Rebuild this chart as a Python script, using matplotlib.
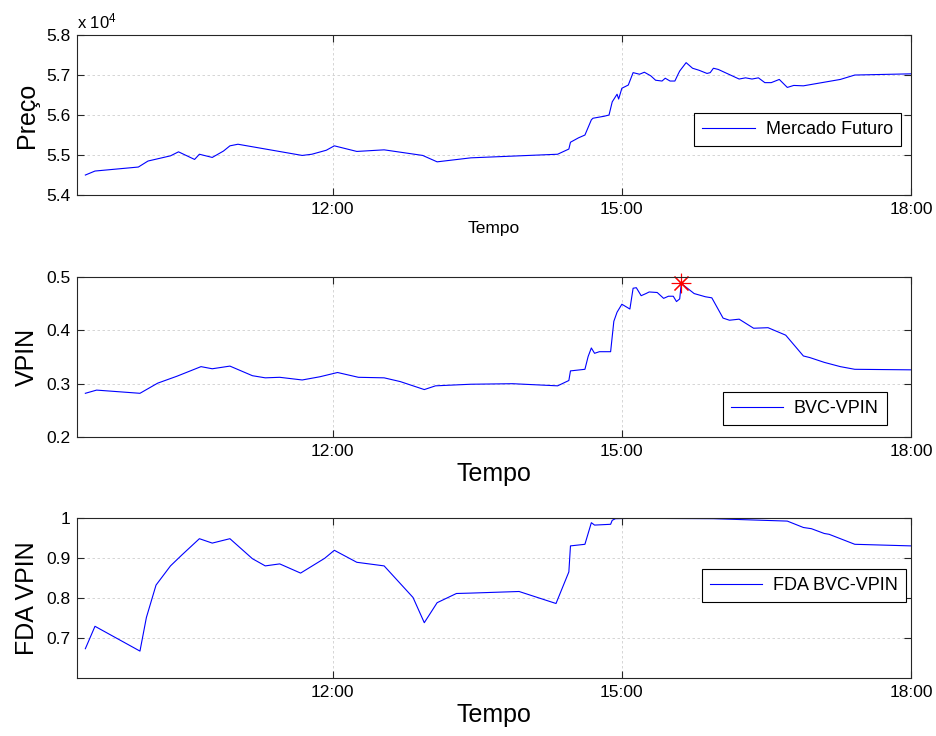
import matplotlib
matplotlib.use("Agg")
import matplotlib.pyplot as plt

plt.rcParams['font.family'] = ['Liberation Sans', 'DejaVu Sans']
plt.rcParams['mathtext.fontset'] = 'custom'
plt.rcParams['mathtext.rm'] = 'Liberation Sans'
plt.rcParams['mathtext.it'] = 'Liberation Sans'

# ---------------- data ----------------
price_times = ["09:26","09:32","09:59","10:05","10:19","10:24","10:34","10:37","10:45","10:52",
               "10:56","11:01","11:41","11:47","11:56","12:01","12:15","12:32","12:56","13:05",
               "13:26","14:20","14:27","14:28","14:33","14:37","14:41","14:42","14:49","14:52",
               "14:54","14:57","14:58","15:00","15:04","15:07","15:11","15:14","15:18","15:21",
               "15:25","15:27","15:30","15:33","15:35","15:36","15:40","15:44","15:48","15:53",
               "15:55","15:57","16:00","16:13","16:17","16:21","16:25","16:29","16:33","16:38",
               "16:43","16:47","16:53","17:16","17:25","18:00"]
price_values = [54500,54600,54700,54850,54980,55080,54890,55020,54940,55100,
                55230,55270,54990,55020,55120,55230,55090,55130,54990,54830,
                54930,55020,55150,55320,55430,55500,55880,55920,55970,56000,
                56330,56520,56400,56670,56750,57060,57020,57070,56980,56870,
                56850,56920,56850,56850,57020,57100,57310,57170,57120,57040,
                57060,57170,57140,56900,56930,56900,56930,56810,56810,56890,
                56690,56740,56730,56890,57000,57030]

vpin_times = ["09:26","09:33","10:00","10:11","10:23","10:38","10:45","10:56","11:10","11:18",
              "11:27","11:41","11:52","12:03","12:16","12:32","12:42","12:57","13:04","13:26",
              "13:52","14:20","14:27","14:28","14:37","14:39","14:41","14:43","14:46","14:53",
              "14:55","14:57","15:00","15:05","15:07","15:09","15:12","15:15","15:17","15:22",
              "15:26","15:29","15:32","15:34","15:36","15:37","15:45","15:52","15:56","16:03",
              "16:07","16:13","16:22","16:31","16:42","16:53","16:57","17:06","17:16","17:25",
              "18:00"]
vpin_values = [0.282,0.288,0.282,0.301,0.314,0.332,0.328,0.333,0.315,0.311,
               0.312,0.307,0.313,0.321,0.312,0.311,0.304,0.289,0.296,0.299,
               0.300,0.296,0.306,0.324,0.327,0.351,0.367,0.357,0.360,0.360,
               0.417,0.434,0.449,0.440,0.479,0.480,0.465,0.469,0.472,0.471,
               0.460,0.464,0.464,0.454,0.459,0.488,0.469,0.463,0.461,0.423,
               0.419,0.421,0.404,0.405,0.391,0.352,0.349,0.340,0.332,0.327,
               0.326]

fda_times = ["09:26","09:32","10:00","10:04","10:10","10:19","10:26","10:37","10:45","10:56",
             "11:10","11:18","11:27","11:40","11:55","12:01","12:15","12:32","12:50","12:57",
             "13:05","13:17","13:26","13:56","14:19","14:27","14:28","14:37","14:41","14:43",
             "14:53","14:54","14:56","15:07","15:57","16:43","16:53","16:58","17:06","17:09",
             "17:25","18:00"]
fda_values = [0.674,0.730,0.668,0.752,0.833,0.881,0.908,0.949,0.938,0.949,
              0.899,0.881,0.886,0.863,0.900,0.920,0.890,0.881,0.802,0.739,
              0.789,0.812,0.813,0.817,0.787,0.866,0.931,0.935,0.989,0.983,
              0.985,0.995,0.999,1.000,0.999,0.993,0.977,0.974,0.962,0.960,
              0.935,0.931]

xtick_hours = [12, 15, 18]
xtick_labels = ["12:00", "15:00", "18:00"]


def to_hours(ts):
    out = []
    for t in ts:
        h, m = t.split(":")
        out.append(int(h) + int(m) / 60.0)
    return out


# ---------------- figure ----------------
fig = plt.figure(figsize=(9.36, 7.36), dpi=100)
L, W, H = 0.0826, 0.8907, 0.2174
ax1 = fig.add_axes([L, 0.7350, W, H])
ax2 = fig.add_axes([L, 0.4062, W, H])
ax3 = fig.add_axes([L, 0.0784, W, H])

blue = '#0000ff'
lw = 0.8
ax1.plot(to_hours(price_times), [p / 1e4 for p in price_values], color=blue, lw=lw,
         label='Mercado Futuro')
vt = to_hours(vpin_times)
ax2.plot(vt, vpin_values, color=blue, lw=lw, label='BVC-VPIN')
imax = max(range(len(vpin_values)), key=lambda i: vpin_values[i])
ax2.plot([vt[imax]], [vpin_values[imax]], linestyle='none', marker=(8, 2, 0),
         markersize=14, markeredgecolor='red', markeredgewidth=0.8, color='red',
         clip_on=False)
ax3.plot(to_hours(fda_times), fda_values, color=blue, lw=lw, label='FDA BVC-VPIN')

ax1.set_ylim(5.4, 5.8)
ax1.set_yticks([5.4, 5.5, 5.6, 5.7, 5.8])
ax1.set_yticklabels(['5.4', '5.5', '5.6', '5.7', '5.8'])
ax2.set_ylim(0.2, 0.5)
ax2.set_yticks([0.2, 0.3, 0.4, 0.5])
ax2.set_yticklabels(['0.2', '0.3', '0.4', '0.5'])
ax3.set_ylim(0.6, 1.0)
ax3.set_yticks([0.7, 0.8, 0.9, 1.0])
ax3.set_yticklabels(['0.7', '0.8', '0.9', '1'])

for ax in (ax1, ax2, ax3):
    ax.set_xlim(9.35, 18.0)
    ax.set_xticks(xtick_hours)
    ax.set_xticklabels(xtick_labels)
    ax.tick_params(direction='in', top=True, right=True, length=5, width=0.8,
                   labelsize=12.5, pad=5, colors='#262626', labelcolor='black')
    ax.grid(True, color='#cfcfcf', linestyle=(0, (3, 3)), linewidth=0.6)
    for s in ax.spines.values():
        s.set_color('#262626')
        s.set_linewidth(0.8)

ax1.text(0.0, 1.025, r'x 10$^{4}$', transform=ax1.transAxes, fontsize=12,
         ha='left', va='bottom')

ax1.set_xlabel('Tempo', fontsize=12.5, labelpad=3)
ax2.set_xlabel('Tempo', fontsize=18, labelpad=2)
ax3.set_xlabel('Tempo', fontsize=18, labelpad=2)
ax1.set_ylabel('Preço', fontsize=18)
ax2.set_ylabel('VPIN', fontsize=18)
ax3.set_ylabel('FDA VPIN', fontsize=18)
for ax in (ax1, ax2, ax3):
    ax.yaxis.set_label_coords(-0.046, 0.5)

leg_kw = dict(loc='upper right', fontsize=13, fancybox=False, framealpha=1,
              edgecolor='black', handlelength=2.9, handletextpad=0.6,
              borderpad=0.45, borderaxespad=0)
l1 = ax1.legend(bbox_to_anchor=(0.9877, 0.514), **leg_kw)
l2 = ax2.legend(handles=[ax2.lines[0]], bbox_to_anchor=(0.971, 0.283), **leg_kw)
l3 = ax3.legend(bbox_to_anchor=(0.994, 0.684), **leg_kw)
for lg in (l1, l2, l3):
    lg.get_frame().set_linewidth(0.8)

fig.savefig('out.png', dpi=100)
